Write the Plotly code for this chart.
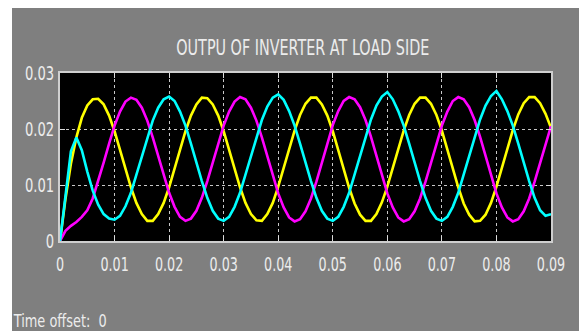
import plotly.graph_objects as go

# time samples in milliseconds (0 .. 90 ms)
time_ms = list(range(0, 91))
time_s = [m / 1000 for m in time_ms]

phase_yellow = [
    0.0000, 0.0075, 0.0138, 0.0185, 0.0220, 0.0242, 0.0253, 0.0254, 0.0244, 0.0224,
    0.0196, 0.0163, 0.0129, 0.0096, 0.0068, 0.0048, 0.0036, 0.0036, 0.0048, 0.0068,
    0.0096, 0.0129, 0.0163, 0.0196, 0.0224, 0.0244, 0.0256, 0.0255, 0.0244, 0.0224,
    0.0196, 0.0163, 0.0129, 0.0096, 0.0068, 0.0048, 0.0037, 0.0036, 0.0048, 0.0068,
    0.0097, 0.0130, 0.0163, 0.0197, 0.0225, 0.0245, 0.0256, 0.0256, 0.0244, 0.0224,
    0.0196, 0.0162, 0.0128, 0.0095, 0.0067, 0.0047, 0.0036, 0.0036, 0.0048, 0.0069,
    0.0097, 0.0130, 0.0164, 0.0197, 0.0225, 0.0245, 0.0256, 0.0256, 0.0245, 0.0225,
    0.0197, 0.0163, 0.0129, 0.0096, 0.0067, 0.0047, 0.0035, 0.0036, 0.0047, 0.0068,
    0.0097, 0.0130, 0.0164, 0.0198, 0.0226, 0.0246, 0.0257, 0.0257, 0.0246, 0.0227,
    0.0202,
]

phase_magenta = [
    0.0000, 0.0018, 0.0027, 0.0034, 0.0043, 0.0055, 0.0076, 0.0106, 0.0140, 0.0174,
    0.0206, 0.0231, 0.0249, 0.0256, 0.0252, 0.0238, 0.0215, 0.0185, 0.0152, 0.0118,
    0.0086, 0.0061, 0.0043, 0.0036, 0.0040, 0.0054, 0.0077, 0.0107, 0.0140, 0.0174,
    0.0206, 0.0231, 0.0249, 0.0257, 0.0253, 0.0238, 0.0215, 0.0185, 0.0152, 0.0118,
    0.0085, 0.0060, 0.0042, 0.0035, 0.0039, 0.0053, 0.0076, 0.0106, 0.0140, 0.0174,
    0.0207, 0.0232, 0.0250, 0.0257, 0.0253, 0.0239, 0.0216, 0.0186, 0.0152, 0.0118,
    0.0085, 0.0060, 0.0042, 0.0035, 0.0039, 0.0053, 0.0076, 0.0106, 0.0139, 0.0173,
    0.0206, 0.0231, 0.0250, 0.0257, 0.0253, 0.0239, 0.0216, 0.0186, 0.0152, 0.0118,
    0.0085, 0.0060, 0.0042, 0.0035, 0.0039, 0.0053, 0.0076, 0.0106, 0.0140, 0.0173,
    0.0205,
]

phase_cyan = [
    0.0000, 0.0085, 0.0160, 0.0185, 0.0162, 0.0124, 0.0090, 0.0065, 0.0048, 0.0040,
    0.0038, 0.0045, 0.0062, 0.0086, 0.0118, 0.0152, 0.0185, 0.0215, 0.0238, 0.0253,
    0.0258, 0.0250, 0.0231, 0.0206, 0.0174, 0.0140, 0.0107, 0.0077, 0.0054, 0.0040,
    0.0036, 0.0043, 0.0061, 0.0086, 0.0118, 0.0152, 0.0185, 0.0216, 0.0240, 0.0256,
    0.0262, 0.0252, 0.0232, 0.0206, 0.0174, 0.0140, 0.0107, 0.0077, 0.0054, 0.0040,
    0.0036, 0.0043, 0.0061, 0.0086, 0.0118, 0.0152, 0.0186, 0.0217, 0.0242, 0.0258,
    0.0266, 0.0253, 0.0232, 0.0206, 0.0174, 0.0140, 0.0107, 0.0077, 0.0054, 0.0040,
    0.0036, 0.0043, 0.0061, 0.0086, 0.0118, 0.0152, 0.0186, 0.0217, 0.0242, 0.0259,
    0.0268, 0.0253, 0.0232, 0.0206, 0.0174, 0.0140, 0.0107, 0.0077, 0.0055, 0.0045,
    0.0048,
]

x_ticks = [0, 0.01, 0.02, 0.03, 0.04, 0.05, 0.06, 0.07, 0.08, 0.09]
x_tick_text = ["0", "0.01", "0.02", "0.03", "0.04", "0.05", "0.06", "0.07", "0.08", "0.09"]
y_ticks = [0, 0.01, 0.02, 0.03]
y_tick_text = ["0", "0.01", "0.02", "0.03"]

title_text = "OUTPU OF INVERTER AT LOAD SIDE"
offset_text = "Time offset:  0"

FONT = "DejaVu Sans, sans-serif"
GRAY = "#7f7f7f"
LABEL = "#ececec"

fig = go.Figure()
for vals, col in [(phase_yellow, "#ffff00"), (phase_magenta, "#ff00ff"), (phase_cyan, "#00ffff")]:
    fig.add_trace(go.Scatter(x=time_s, y=vals, mode="lines",
                             line=dict(color=col, width=2.6), showlegend=False,
                             hoverinfo="skip"))

axis_common = dict(
    showgrid=True, gridcolor="#c8c8c8", griddash="dot", gridwidth=1,
    zeroline=False, showline=True, linecolor="#cfcfcf", linewidth=2,
    mirror="allticks", ticks="inside", ticklen=5, tickwidth=1, tickcolor="#dcdcdc",
    tickfont=dict(family=FONT, size=19, color=LABEL), automargin=False,
)

fig.update_layout(
    width=579, height=331,
    paper_bgcolor=GRAY, plot_bgcolor="#000000",
    margin=dict(l=60, r=28, t=73, b=90, autoexpand=False),
    title=dict(text=title_text, x=0.523, xanchor="center", y=1 - 48 / 331,
               yanchor="middle", font=dict(family=FONT, size=21, color=LABEL),
               automargin=False),
    xaxis=dict(range=[0, 0.09], tickvals=x_ticks, ticktext=x_tick_text,
               ticklabelstandoff=5, **axis_common),
    yaxis=dict(range=[0, 0.03], tickvals=y_ticks, ticktext=y_tick_text,
               **axis_common),
    shapes=[
        dict(type="rect", xref="paper", yref="paper", x0=-0.13, x1=(12 - 60) / 491,
             y0=-0.6, y1=1.5, fillcolor="#ffffff", line=dict(width=0), layer="above"),
        dict(type="rect", xref="paper", yref="paper", x0=-0.13, x1=1.1,
             y0=(241 - 8) / 168, y1=1.5, fillcolor="#ffffff", line=dict(width=0), layer="above"),
    ],
    annotations=[
        dict(text=offset_text, xref="paper", yref="paper", x=(59 - 60) / 491,
             y=(241 - 321) / 168, xanchor="center", yanchor="middle", showarrow=False,
             font=dict(family=FONT, size=17, color=LABEL)),
    ],
)

post_js = """
document.body.style.margin = '0';
var gd = document.getElementById('{plot_id}');
function condense(sel, f, fixed) {
  gd.querySelectorAll(sel).forEach(function (t) {
    var w = t.getComputedTextLength();
    t.setAttribute('textLength', fixed ? fixed : w * f);
    t.setAttribute('lengthAdjust', 'spacingAndGlyphs');
  });
}
condense('text.gtitle', 0, 253);
condense('g.xtick text', 0.67, 0);
condense('g.ytick text', 0.69, 0);
condense('text.annotation-text', 0, 93);
"""

fig.write_html("out.html", post_script=post_js, config={"displayModeBar": False})
